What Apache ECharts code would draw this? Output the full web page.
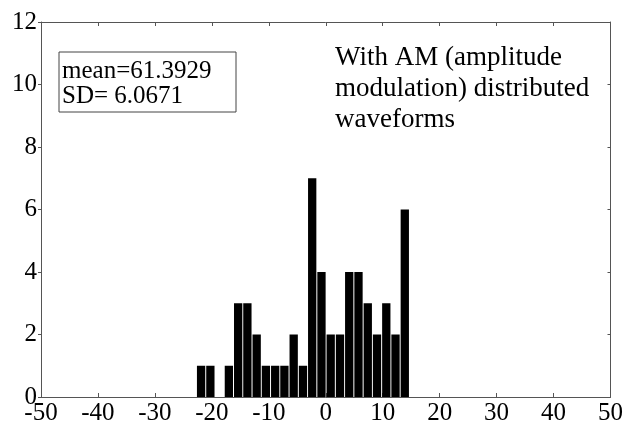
<!DOCTYPE html>
<html>
<head>
<meta charset="utf-8">
<script src="https://cdn.jsdelivr.net/npm/echarts@6/dist/echarts.min.js"></script>
<style>html,body{margin:0;padding:0;background:#fff}#c{width:626px;height:428px}</style>
</head>
<body>
<div id="c"></div>
<script>
// Histogram bin centres (x) and counts
var binCenters = [-21.89, -20.26, -18.64, -17.01, -15.38, -13.76, -12.13, -10.51, -8.88, -7.26, -5.63, -4.00, -2.38, -0.75, 0.87, 2.50, 4.12, 5.75, 7.38, 9.00, 10.63, 12.25, 13.88];
var counts     = [1, 1, 0, 1, 3, 3, 2, 1, 1, 1, 2, 1, 7, 4, 2, 2, 4, 4, 3, 2, 3, 2, 6];
var xTicks = [-50, -40, -30, -20, -10, 0, 10, 20, 30, 40, 50];
var yTicks = [0, 2, 4, 6, 8, 10, 12];
var statsText = ['mean=61.3929', 'SD= 6.0671'];
var noteText = ['With AM (amplitude', 'modulation) distributed', 'waveforms'];

var FONT = '"Liberation Serif", "Times New Roman", serif';
var axisColor = '#555';

var chart = echarts.init(document.getElementById('c'), null, {renderer: 'canvas'});
var barData = binCenters.map(function (c, i) { return [c, counts[i]]; });

function xAxisCfg(pos, showLabel) {
  return {
    type: 'value', position: pos,
    min: xTicks[0], max: xTicks[xTicks.length - 1], interval: xTicks[1] - xTicks[0],
    axisLine: {show: true, onZero: false, lineStyle: {color: axisColor, width: 1}},
    axisTick: {show: true, inside: true, length: 4, lineStyle: {color: axisColor}},
    axisLabel: {show: showLabel, color: '#000', fontFamily: FONT, fontSize: 25, margin: 4,
      showMinLabel: true, showMaxLabel: true},
    splitLine: {show: false}
  };
}
function yAxisCfg(pos, showLabel) {
  return {
    type: 'value', position: pos,
    min: yTicks[0], max: yTicks[yTicks.length - 1], interval: yTicks[1] - yTicks[0],
    axisLine: {show: true, onZero: false, lineStyle: {color: axisColor, width: 1}},
    axisTick: {show: true, inside: pos === 'right', length: 3, lineStyle: {color: axisColor}},
    axisLabel: {show: showLabel, color: '#000', fontFamily: FONT, fontSize: 25, margin: 4,
      showMinLabel: true, showMaxLabel: true},
    splitLine: {show: false}
  };
}

chart.setOption({
  animation: false,
  backgroundColor: '#fff',
  grid: {left: 41, right: 14, top: 22, bottom: 31},
  xAxis: [xAxisCfg('bottom', true), xAxisCfg('top', false)],
  yAxis: [yAxisCfg('left', true), yAxisCfg('right', false)],
  series: [{
    type: 'bar', xAxisIndex: 0, yAxisIndex: 0,
    data: barData, barWidth: 8.3,
    itemStyle: {color: '#000'}
  }],
  graphic: [
    {type: 'rect', shape: {x: 59, y: 52, width: 177, height: 60},
      style: {fill: '#fff', stroke: '#444', lineWidth: 1}, z: 100},
    {type: 'text', x: 62, y: 59, z: 101,
      style: {text: statsText.join('\n'), fontFamily: FONT, fontSize: 25, lineHeight: 25,
        fill: '#000', align: 'left', verticalAlign: 'top'}},
    {type: 'text', x: 335, y: 42, z: 101,
      style: {text: noteText.join('\n'), fontFamily: FONT, fontSize: 27, lineHeight: 31,
        fill: '#000', align: 'left', verticalAlign: 'top'}}
  ]
});
</script>
</body>
</html>
